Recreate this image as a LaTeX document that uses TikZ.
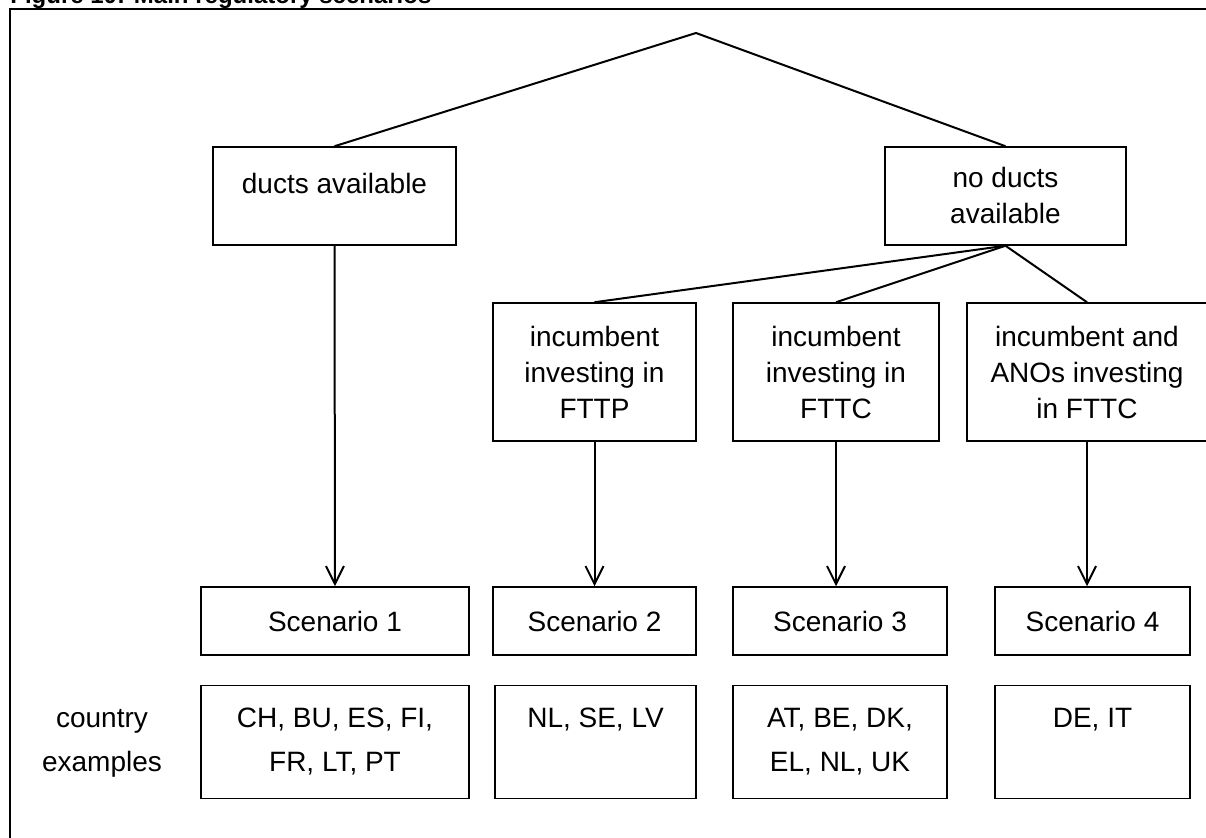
\documentclass[tikz,border=0pt]{standalone}
\usepackage{fontspec}
\setmainfont{Liberation Sans}
\usetikzlibrary{arrows.meta}
\begin{document}
\begin{tikzpicture}[x=0.5pt,y=-0.5pt,
  box/.style={draw, line width=0.75pt, align=center, inner sep=0pt,
    font=\fontsize{14}{18}\selectfont},
  cbox/.style={box, font=\fontsize{14}{22}\selectfont},
  conn/.style={line width=1pt},
  arr/.style={line width=1pt, -{Straight Barb[length=9pt,width=9pt,line width=1pt]}},
  lbl/.style={align=center, inner sep=0pt, font=\fontsize{14}{22}\selectfont}]
\useasboundingbox (0,0) rectangle (1206,838);
% frame and title
\draw[line width=1pt] (10,850) -- (10,9) -- (1210,9);
\node[anchor=base west, inner sep=0pt, font=\bfseries\fontsize{12}{14}\selectfont] (title) at (10,4) {Figure 10: Main regulatory scenarios};
% tree
\coordinate (apex) at (696,33);
\node[box, minimum width=121.5pt, minimum height=49pt] (duct) at (334.5,196) {ducts available\\[-5pt]\phantom{available}};
\node[box, minimum width=120.5pt, minimum height=49pt] (noduct) at (1005.5,196) {no ducts\\available};
\node[box, minimum width=101.5pt, minimum height=69pt] (fttp) at (594.5,372) {incumbent\\investing in\\FTTP};
\node[box, minimum width=103pt, minimum height=69pt] (fttc) at (836,372) {incumbent\\investing in\\FTTC};
\node[box, minimum width=120pt, minimum height=69pt] (anos) at (1087,372) {incumbent and\\ANOs investing\\in FTTC};
\node[box, minimum width=134pt, minimum height=34pt] (s1) at (335,621) {Scenario 1};
\node[box, minimum width=101.5pt, minimum height=34pt] (s2) at (594.5,621) {Scenario 2};
\node[box, minimum width=107pt, minimum height=34pt] (s3) at (840,621) {Scenario 3};
\node[box, minimum width=97.5pt, minimum height=34pt] (s4) at (1092.5,621) {Scenario 4};
\node[cbox, minimum width=134pt, minimum height=56.5pt] (c1) at (335,742) {CH, BU, ES, FI,\\FR, LT, PT};
\node[cbox, minimum width=100.5pt, minimum height=56.5pt] (c2) at (595.5,742) {NL, SE, LV\\\phantom{EL,}};
\node[cbox, minimum width=107pt, minimum height=56.5pt] (c3) at (840,742) {AT, BE, DK,\\EL, NL, UK};
\node[cbox, minimum width=97.5pt, minimum height=56.5pt] (c4) at (1092.5,742) {DE, IT\\\phantom{EL,}};
\node[lbl] (ce) at (102,743) {country\\examples};
% connectors
\draw[conn] (duct.north) -- (apex) -- (noduct.north);
\draw[conn] (noduct.south) -- (fttp.north);
\draw[conn] (noduct.south) -- (fttc.north);
\draw[conn] (noduct.south) -- (anos.north);
\draw[arr] (duct.south) -- (s1.north);
\draw[arr] (fttp.south) -- (s2.north);
\draw[arr] (fttc.south) -- (fttc.south |- s3.north);
\draw[arr] (anos.south) -- (anos.south |- s4.north);
\end{tikzpicture}
\end{document}
